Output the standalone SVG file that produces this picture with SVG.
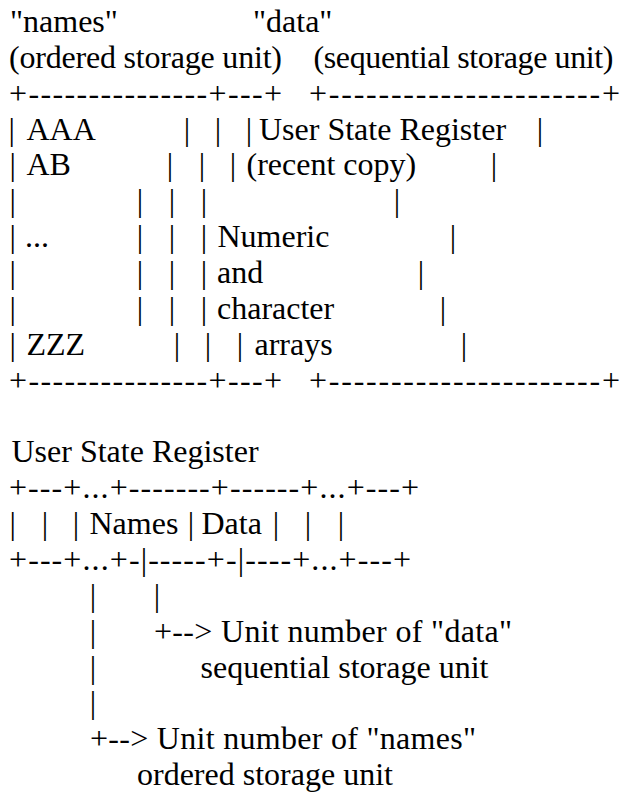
<svg xmlns="http://www.w3.org/2000/svg" width="624" height="794" viewBox="0 0 624 794" xml:space="preserve">
  <style>
    text { font-family: "Liberation Serif", "Times New Roman", serif; font-size: 32px; fill: #000; white-space: pre; }
  </style>
  <rect width="624" height="794" fill="#fff"/>

  <!-- headings of the two storage units -->
  <g id="headings">
    <text x="10" y="32">"names"</text>
    <text x="253" y="32">"data"</text>
    <text x="9" y="67.9" textLength="273" lengthAdjust="spacing">(ordered storage unit)</text>
    <text x="313.5" y="67.9" textLength="300" lengthAdjust="spacing">(sequential storage unit)</text>
  </g>

  <!-- "names" ordered storage unit box -->
  <g id="names-unit">
    <text x="9" y="103.7" textLength="273" lengthAdjust="spacing">+---------------+---+</text>
    <text y="139.6"><tspan x="8.5">|</tspan><tspan x="26.5">AAA</tspan><tspan x="183.8">|</tspan><tspan x="214.8">|</tspan><tspan x="245.8">|</tspan></text>
    <text y="175.4"><tspan x="9.5">|</tspan><tspan x="26.5">AB</tspan><tspan x="166.8">|</tspan><tspan x="198.8">|</tspan><tspan x="229.8">|</tspan></text>
    <text y="211.3"><tspan x="9.5">|</tspan><tspan x="136.8">|</tspan><tspan x="168.8">|</tspan><tspan x="200.8">|</tspan></text>
    <text y="247.2"><tspan x="9.5">|</tspan><tspan x="25">...</tspan><tspan x="136.8">|</tspan><tspan x="168.8">|</tspan><tspan x="200.8">|</tspan></text>
    <text y="283"><tspan x="9.5">|</tspan><tspan x="136.8">|</tspan><tspan x="168.8">|</tspan><tspan x="200.8">|</tspan></text>
    <text y="318.9"><tspan x="9.5">|</tspan><tspan x="136.8">|</tspan><tspan x="168.8">|</tspan><tspan x="200.8">|</tspan></text>
    <text y="354.7"><tspan x="9.5">|</tspan><tspan x="26.5">ZZZ</tspan><tspan x="173.8">|</tspan><tspan x="204.8">|</tspan><tspan x="236.8">|</tspan></text>
    <text x="9" y="390.6" textLength="273" lengthAdjust="spacing">+---------------+---+</text>
  </g>

  <!-- "data" sequential storage unit box -->
  <g id="data-unit">
    <text x="309" y="103.7" textLength="311" lengthAdjust="spacing">+----------------------+</text>
    <text y="139.6"><tspan x="259">User State Register</tspan><tspan x="536.8">|</tspan></text>
    <text y="175.4"><tspan x="246.5">(recent copy)</tspan><tspan x="490.8">|</tspan></text>
    <text y="211.3"><tspan x="393.8">|</tspan></text>
    <text y="247.2"><tspan x="217.5">Numeric</tspan><tspan x="449.8">|</tspan></text>
    <text y="283"><tspan x="217">and</tspan><tspan x="417.8">|</tspan></text>
    <text y="318.9"><tspan x="217">character</tspan><tspan x="439.8">|</tspan></text>
    <text y="354.7"><tspan x="254.5">arrays</tspan><tspan x="460.8">|</tspan></text>
    <text x="309" y="390.6" textLength="311" lengthAdjust="spacing">+----------------------+</text>
  </g>

  <!-- User State Register layout -->
  <g id="usr-label">
    <text x="11.5" y="462.3">User State Register</text>
  </g>
  <g id="usr-register">
    <text x="9" y="498.2" textLength="410" lengthAdjust="spacing">+---+...+-------+------+...+---+</text>
    <text y="534"><tspan x="9.5">|</tspan><tspan x="41.8">|</tspan><tspan x="72.8">|</tspan><tspan x="89.5">Names</tspan><tspan x="187.8">|</tspan><tspan x="201.5">Data</tspan><tspan x="272.8">|</tspan><tspan x="304.8">|</tspan><tspan x="337.8">|</tspan></text>
    <text x="9" y="569.9" textLength="402" lengthAdjust="spacing">+---+...+-|-----+-|----+...+---+</text>
  </g>

  <!-- pointers from the Names and Data fields -->
  <g id="connectors">
    <text y="605.8"><tspan x="89.8">|</tspan><tspan x="153.8">|</tspan></text>
    <text y="641.6"><tspan x="89.8">|</tspan></text>
    <text x="154" y="641.6" textLength="358" lengthAdjust="spacing">+--&gt; Unit number of "data"</text>
    <text y="677.5"><tspan x="89.8">|</tspan><tspan x="200.5">sequential storage unit</tspan></text>
    <text y="713.3"><tspan x="89.8">|</tspan></text>
    <text x="90" y="749.2" textLength="386" lengthAdjust="spacing">+--&gt; Unit number of "names"</text>
    <text y="785.1"><tspan x="137">ordered storage unit</tspan></text>
  </g>
</svg>
